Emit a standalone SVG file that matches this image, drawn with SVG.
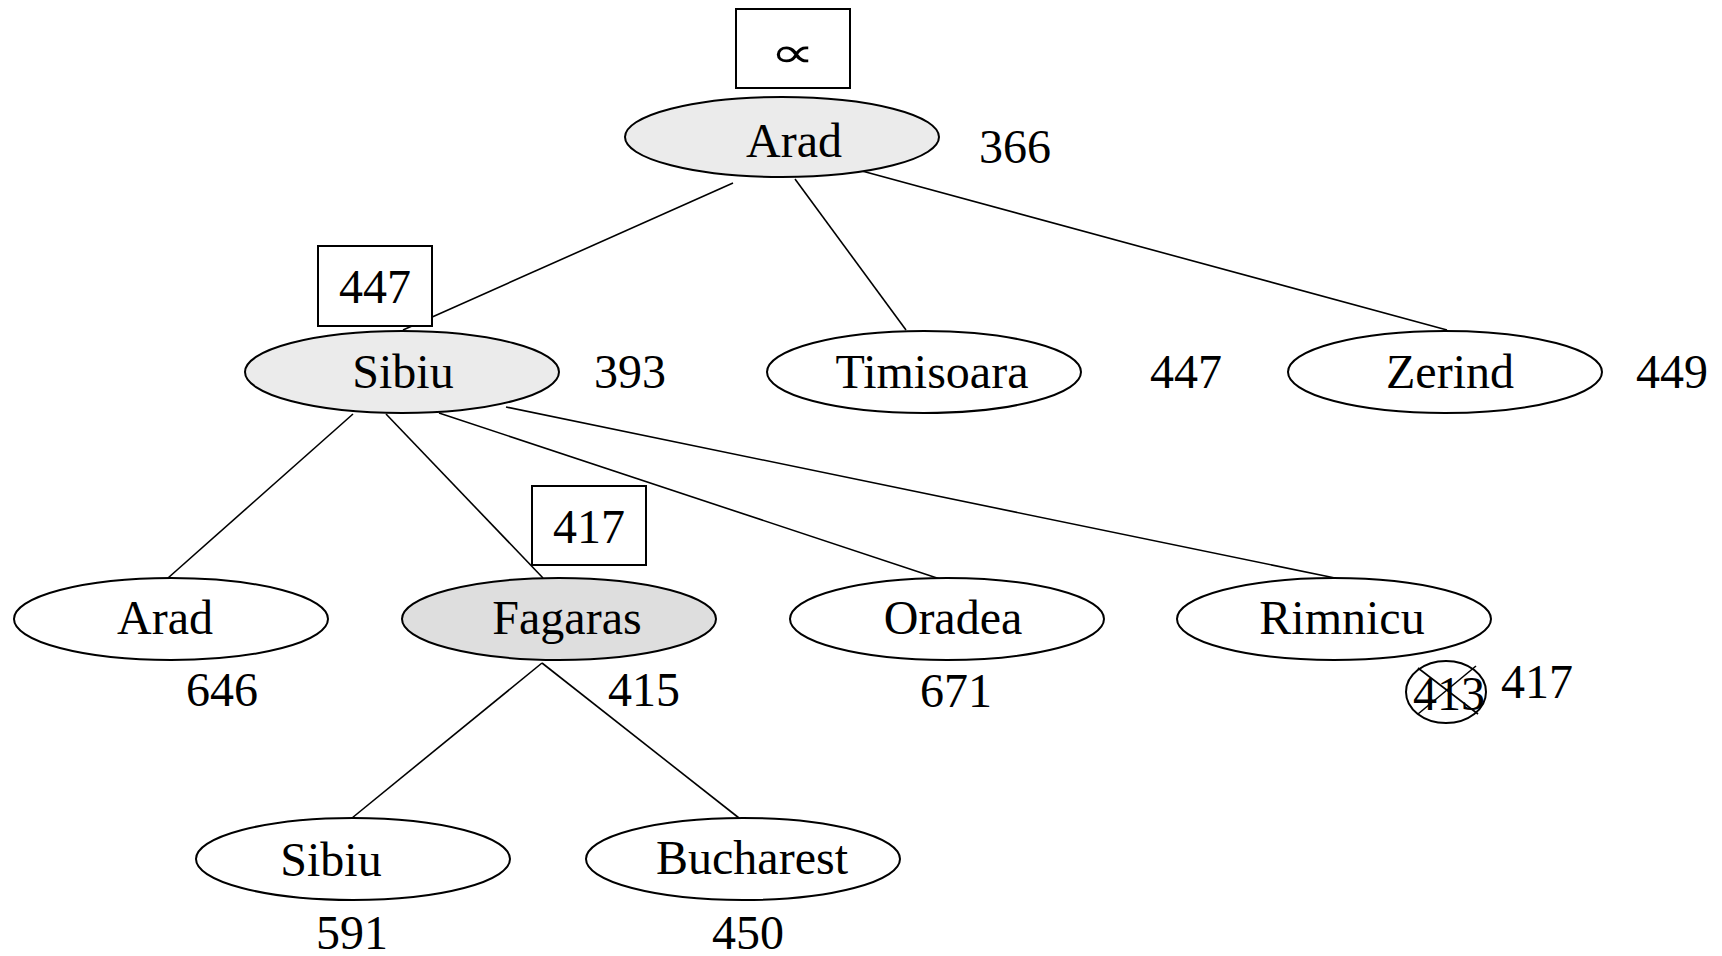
<svg xmlns="http://www.w3.org/2000/svg" width="1722" height="956" viewBox="0 0 1722 956">
<style>
  .n { stroke:#000; stroke-width:2; fill:#fff; }
  .g1 { fill:#ebebeb; }
  .g2 { fill:#dedede; }
  .t { font-family:"Liberation Serif","Times New Roman",serif; font-size:48px; fill:#000; }
  .m { text-anchor:middle; }
  .b { stroke:#000; stroke-width:2; fill:#fff; }
  .e { stroke:#000; stroke-width:1.6; fill:none; }
</style>
<rect width="1722" height="956" fill="#fff"/>
<g id="connectors">
  <line class="e" x1="733" y1="183" x2="403" y2="330"/>
  <line class="e" x1="795" y1="179" x2="906" y2="330"/>
  <line class="e" x1="862" y1="171" x2="1447" y2="330"/>
  <line class="e" x1="353" y1="414" x2="168" y2="578"/>
  <line class="e" x1="386" y1="414" x2="543" y2="578"/>
  <line class="e" x1="439" y1="413" x2="940" y2="579"/>
  <line class="e" x1="506" y1="407" x2="1335" y2="578"/>
  <line class="e" x1="542" y1="663" x2="352" y2="818"/>
  <line class="e" x1="542" y1="663" x2="739" y2="818"/>
</g>
<g id="box-root">
  <rect class="b" x="736" y="9" width="114" height="79"/>
  <text class="t m" transform="translate(793,67) scale(1.5,1)" x="0" y="0" style="font-size:42px">∝</text>
</g>
<g id="node-arad-root">
  <ellipse class="n g1" cx="782" cy="137" rx="157" ry="40"/>
  <text class="t m" x="794" y="157">Arad</text>
  <text class="t" x="979" y="163">366</text>
</g>
<g id="box-sibiu">
  <rect class="b" x="318" y="246" width="114" height="80"/>
  <text class="t m" x="375" y="303">447</text>
</g>
<g id="node-sibiu">
  <ellipse class="n g1" cx="402" cy="372" rx="157" ry="41"/>
  <text class="t m" x="403" y="388">Sibiu</text>
  <text class="t" x="594" y="388">393</text>
</g>
<g id="node-timisoara">
  <ellipse class="n" cx="924" cy="372" rx="157" ry="41"/>
  <text class="t m" x="932" y="388">Timisoara</text>
  <text class="t" x="1150" y="388">447</text>
</g>
<g id="node-zerind">
  <ellipse class="n" cx="1445" cy="372" rx="157" ry="41"/>
  <text class="t m" x="1450" y="388">Zerind</text>
  <text class="t" x="1636" y="388">449</text>
</g>
<g id="node-arad2">
  <ellipse class="n" cx="171" cy="619" rx="157" ry="41"/>
  <text class="t m" x="165" y="634">Arad</text>
  <text class="t" x="186" y="706">646</text>
</g>
<g id="box-fagaras">
  <rect class="b" x="532" y="486" width="114" height="79"/>
  <text class="t m" x="589" y="543">417</text>
</g>
<g id="node-fagaras">
  <ellipse class="n g2" cx="559" cy="619" rx="157" ry="41"/>
  <text class="t m" x="567" y="634">Fagaras</text>
  <text class="t" x="608" y="706">415</text>
</g>
<g id="node-oradea">
  <ellipse class="n" cx="947" cy="619" rx="157" ry="41"/>
  <text class="t m" x="953" y="634">Oradea</text>
  <text class="t" x="920" y="707">671</text>
</g>
<g id="node-rimnicu">
  <ellipse class="n" cx="1334" cy="619" rx="157" ry="41"/>
  <text class="t m" x="1342" y="634">Rimnicu</text>
  <ellipse class="b" cx="1446" cy="692" rx="40" ry="31" fill="none"/>
  <text class="t m" x="1449" y="710">413</text>
  <line class="e" x1="1418" y1="668" x2="1478" y2="714"/>
  <line class="e" x1="1418" y1="714" x2="1476" y2="666"/>
  <text class="t" x="1501" y="698">417</text>
</g>
<g id="node-sibiu2">
  <ellipse class="n" cx="353" cy="859" rx="157" ry="41"/>
  <text class="t m" x="331" y="876">Sibiu</text>
  <text class="t" x="316" y="949">591</text>
</g>
<g id="node-bucharest">
  <ellipse class="n" cx="743" cy="859" rx="157" ry="41"/>
  <text class="t m" x="752" y="874">Bucharest</text>
  <text class="t" x="712" y="949">450</text>
</g>
</svg>
